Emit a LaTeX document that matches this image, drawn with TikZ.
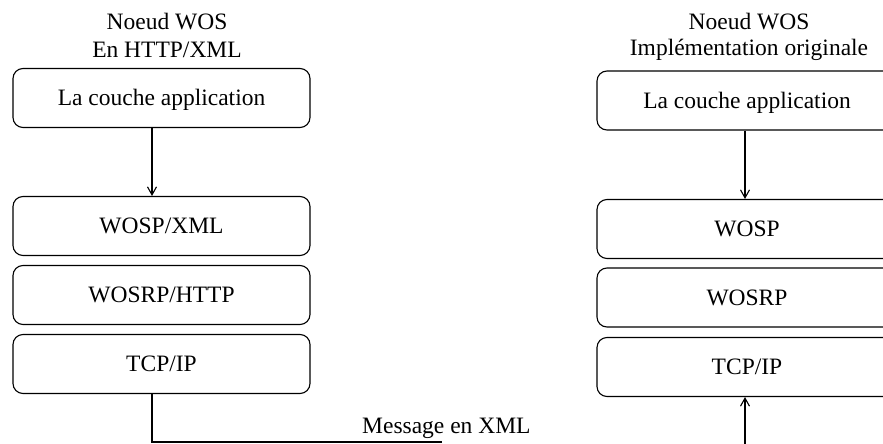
\documentclass[tikz,border=0pt]{standalone}
\usepackage{fontspec}
\setmainfont{Liberation Serif}
\usetikzlibrary{arrows.meta}

\begin{document}
\begin{tikzpicture}[x=1pt, y=-1pt,
  font=\fontsize{23.5}{28}\selectfont,
  layer/.style={draw, line width=1.1pt, rounded corners=10pt,
    minimum height=59pt, inner sep=0pt, text height=15.5pt, text depth=0pt},
  leftlayer/.style={layer, minimum width=297pt},
  rightlayer/.style={layer, minimum width=300pt},
  title/.style={align=center, inner sep=0pt},
  flow/.style={line width=1.1pt, -{Straight Barb[length=8pt,width=9pt]}},
  wire/.style={line width=1.1pt}]
\useasboundingbox (0,0) rectangle (883,444);

% Left stack: WOS node over HTTP/XML
\node[title] (t1a) at (167,22) {Noeud WOS};
\node[title] (t1b) at (167,50) {En HTTP/XML};
\node[leftlayer] (app1)   at (161.5,98)  {La couche application};
\node[leftlayer] (wosp1)  at (161.5,226) {WOSP/XML};
\node[leftlayer] (wosrp1) at (161.5,295) {WOSRP/HTTP};
\node[leftlayer] (tcp1)   at (161.5,364) {TCP/IP};

% Right stack: original WOS implementation
\node[title] (t2a) at (749,22) {Noeud WOS};
\node[title] (t2b) at (749,50) {Implémentation originale};
\node[rightlayer] (app2)   at (747,100.5) {La couche application};
\node[rightlayer] (wosp2)  at (747,229)   {WOSP};
\node[rightlayer] (wosrp2) at (747,297.5) {WOSRP};
\node[rightlayer] (tcp2)   at (747,367)   {TCP/IP};

% Application layer down to the protocol layer
\draw[flow] ([xshift=-9.5pt]app1.south) -- ([xshift=-9.5pt]wosp1.north);
\draw[flow] ([xshift=-2pt]app2.south) -- ([xshift=-2pt]wosp2.north);

% Message leaving the left node and arriving at the right one
\coordinate (msgend) at (442,442);
\coordinate (msgin) at (745,452);
\draw[wire] ([xshift=-9.5pt]tcp1.south) |- (msgend);
\node[anchor=base west, inner sep=0pt] (msg) at (362,433) {Message en XML};
\draw[flow] (msgin) -- ([xshift=-2pt]tcp2.south);
\end{tikzpicture}
\end{document}
